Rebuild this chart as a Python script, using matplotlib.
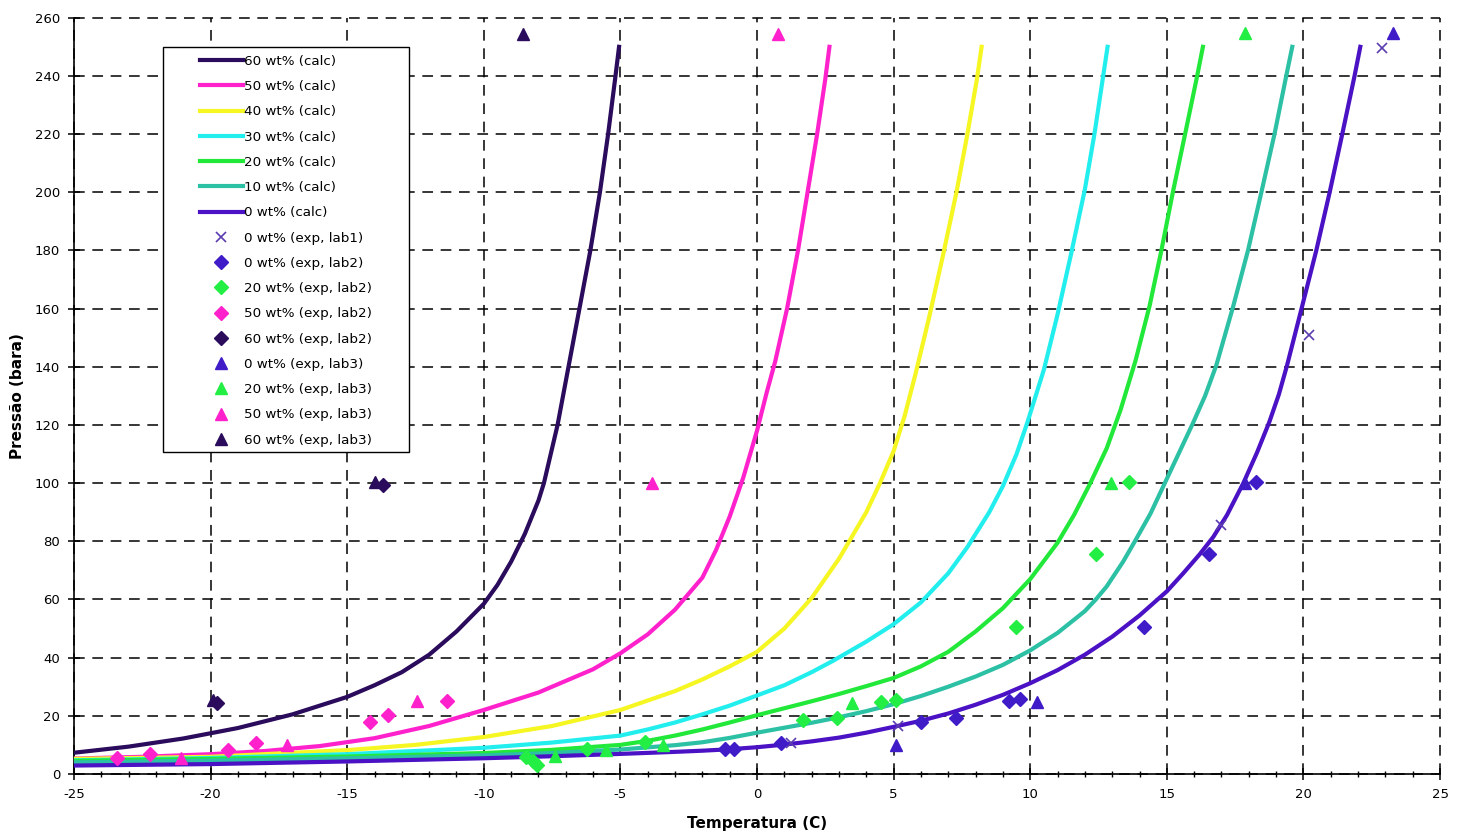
import numpy as np
import matplotlib
matplotlib.use("Agg")
import matplotlib.pyplot as plt
from matplotlib.ticker import MultipleLocator
from matplotlib.patches import Rectangle

plt.rcParams['font.family'] = ['DejaVu Sans']
plt.rcParams['axes.unicode_minus'] = False

# ── calculated curves (T in C, P in bara) ───────────────────────────────────

t_60 = [-25, -23, -21, -19, -17, -15, -14, -13, -12, -11, -10, -9.5, -9, -8.5, -8, -7.8, -7.55, -7.3, -7.1, -6.9, -6.5, -6.1, -5.75, -5.45, -5.18, -5.05]
p_60 = [7.3, 9.4, 12.2, 15.8, 20.5, 26.5, 30.5, 35, 41, 49, 58.5, 65, 73, 82.5, 94, 100, 110, 120, 130, 140, 160, 180, 200, 220, 240, 250]

t_50 = [-25, -22.5, -20, -18, -16, -14, -12, -10, -8, -6, -5, -4, -3, -2, -1.5, -1, -0.5, 0, 0.35, 0.67, 1.1, 1.5, 1.85, 2.2, 2.5, 2.65]
p_50 = [5.3, 5.9, 6.8, 7.9, 9.6, 12.3, 16.5, 22, 28, 36, 41.5, 48, 56.5, 67.5, 77, 88.5, 102, 118, 131, 142, 160, 180, 200, 220, 239, 250]

t_40 = [-25, -20, -15, -12.5, -10, -7.5, -5, -3, -2, -1, 0, 1, 2, 3, 4, 4.5, 5, 5.4, 5.8, 6.3, 6.8, 7.3, 7.7, 8.05, 8.22]
p_40 = [5.2, 5.9, 8.2, 10.0, 12.7, 16.5, 22, 28.5, 32.5, 37, 42, 50, 60.5, 74, 90, 100, 111, 123, 137.5, 157, 178, 200, 220, 239, 250]

t_30 = [-25, -20, -15, -10, -7.5, -5, -4, -3, -2, -1, 0, 1, 2, 2.8, 4, 5, 6, 7, 7.7, 8.5, 9, 9.5, 9.9, 10.5, 11, 11.5, 12, 12.35, 12.67, 12.83]
p_30 = [4.7, 5.5, 6.8, 9.0, 10.8, 13.2, 15.3, 17.7, 20.5, 23.5, 27, 30.5, 35, 39, 45.5, 51.5, 59, 69, 78, 90, 99, 110, 121, 139, 158, 179, 201, 220, 240, 250]

t_20 = [-25, -20, -15, -10, -7.5, -5, -4, -3, -2, -1, 0, 1, 2, 3, 4, 5, 6, 7, 8, 9, 10, 11, 11.6, 12.2, 12.8, 13.3, 13.85, 14.37, 14.8, 15.22, 15.69, 16.11, 16.32]
p_20 = [4.5, 5.2, 6.0, 7.2, 8.3, 10.0, 11.4, 13.2, 15.3, 17.7, 20.2, 22.6, 25, 27.5, 30.2, 33, 37, 42, 49, 57, 67, 79.5, 89, 100, 112, 125, 142, 161, 180, 200, 221, 240, 250]

t_10 = [-25, -20, -15, -10, -7.5, -5, -3, -2, -1, 0, 1, 2, 3, 4, 5, 6, 7, 8, 9, 10, 11, 12, 12.4, 12.8, 13.4, 13.8, 14.4, 14.9, 15.4, 15.95, 16.4, 16.81, 17.1, 17.42, 17.97, 18.46, 18.94, 19.37, 19.59]
p_10 = [4.0, 4.6, 5.4, 6.4, 7.2, 8.4, 9.9, 10.9, 12.4, 14.2, 15.9, 17.6, 19.5, 21.6, 24, 26.8, 30, 33.5, 37.5, 42.5, 48.5, 56, 60, 64.5, 73, 79.5, 89.5, 99.5, 109.5, 120.5, 130, 140.5, 150, 160.5, 180, 200, 220, 240, 250]

t_0 = [-25, -20, -15, -10, -7.5, -5, -3, -2, -1, 0, 1, 2, 3, 4, 5, 6, 7, 8, 9, 10, 11, 12, 13, 14, 15, 15.6, 16.2, 16.7, 17.2, 17.8, 18.3, 18.75, 19.1, 19.4, 19.93, 20.47, 20.96, 21.42, 21.87, 22.08]
p_0 = [2.9, 3.4, 4.3, 5.4, 6.1, 6.9, 7.6, 8.0, 8.5, 9.2, 10.1, 11.2, 12.5, 14.2, 16.2, 18.3, 20.8, 23.8, 27.2, 31.2, 35.7, 41, 47.2, 54.5, 62.8, 69, 75.5, 81.5, 89, 100, 110.5, 121, 130.5, 140.5, 160, 180, 200, 220, 240, 250]

# ── experimental points ─────────────────────────────────────────────────────

t_0_lab1 = [1.26, 5.16, 16.99, 20.2, 22.88]
p_0_lab1 = [10.7, 16.4, 85.6, 150.8, 249.7]

t_0_lab2 = [-1.17, -0.85, 0.89, 6.0, 7.3, 9.22, 9.61, 14.16, 16.54, 18.25]
p_0_lab2 = [8.6, 8.6, 10.5, 18.0, 19.4, 25.0, 25.8, 50.5, 75.6, 100.5]

t_20_lab2 = [-8.45, -8.2, -8.05, -6.24, -4.1, 1.67, 2.92, 4.53, 5.1, 9.49, 12.4, 13.6]
p_20_lab2 = [6.0, 4.5, 3.0, 8.6, 10.9, 18.7, 19.4, 24.7, 25.3, 50.5, 75.6, 100.5]

t_50_lab2 = [-23.44, -22.22, -19.36, -18.32, -14.15, -13.5, -11.34]
p_50_lab2 = [5.6, 6.7, 8.4, 10.7, 17.9, 20.4, 25.0]

t_60_lab2 = [-19.75, -13.7]
p_60_lab2 = [24.5, 99.5]

t_0_lab3 = [5.08, 10.26, 17.85, 23.27]
p_0_lab3 = [9.8, 24.8, 99.9, 254.8]

t_20_lab3 = [-7.4, -5.51, -3.44, 3.47, 12.97, 17.85]
p_20_lab3 = [6.1, 8.2, 9.8, 24.5, 99.9, 254.8]

t_50_lab3 = [-21.1, -17.2, -12.43, -3.86, 0.77]
p_50_lab3 = [5.6, 10.1, 25.0, 99.9, 254.5]

t_60_lab3 = [-19.9, -14.0, -8.58]
p_60_lab3 = [25.5, 100.5, 254.5]

# ── colours ─────────────────────────────────────────────────────────────────

c60 = "#2a0b5c"
c50 = "#ff22cc"
c40 = "#f6f622"
c30 = "#22eeee"
c20 = "#22e83a"
c10 = "#2cc0a4"
c0 = "#4a12c4"

# ── plot ────────────────────────────────────────────────────────────────────

fig = plt.figure(figsize=(14.62, 8.36), dpi=100)
ax = fig.add_axes([0.0506, 0.0742, 0.9344, 0.9046])

lw = 3.0
ax.plot(t_60, p_60, color=c60, lw=lw, label="60 wt% (calc)", zorder=3, solid_joinstyle="round")
ax.plot(t_50, p_50, color=c50, lw=lw, label="50 wt% (calc)", zorder=3, solid_joinstyle="round")
ax.plot(t_40, p_40, color=c40, lw=lw, label="40 wt% (calc)", zorder=3, solid_joinstyle="round")
ax.plot(t_30, p_30, color=c30, lw=lw, label="30 wt% (calc)", zorder=3, solid_joinstyle="round")
ax.plot(t_20, p_20, color=c20, lw=lw, label="20 wt% (calc)", zorder=3, solid_joinstyle="round")
ax.plot(t_10, p_10, color=c10, lw=lw, label="10 wt% (calc)", zorder=3, solid_joinstyle="round")
ax.plot(t_0, p_0, color=c0, lw=lw, label="0 wt% (calc)", zorder=3, solid_joinstyle="round")

ax.plot(t_0_lab1, p_0_lab1, ls="none", marker="x", ms=7, mew=1.2, color="#5a3cb0", label="0 wt% (exp, lab1)", zorder=4)
ax.plot(t_0_lab2, p_0_lab2, ls="none", marker="D", ms=7, color="#3f1cc8", label="0 wt% (exp, lab2)", zorder=4)
ax.plot(t_20_lab2, p_20_lab2, ls="none", marker="D", ms=7, color="#22ee44", label="20 wt% (exp, lab2)", zorder=4)
ax.plot(t_50_lab2, p_50_lab2, ls="none", marker="D", ms=7, color="#ff22cc", label="50 wt% (exp, lab2)", zorder=4)
ax.plot(t_60_lab2, p_60_lab2, ls="none", marker="D", ms=7, color="#2a0b5c", label="60 wt% (exp, lab2)", zorder=4)
ax.plot(t_0_lab3, p_0_lab3, ls="none", marker="^", ms=8, color="#3f1cc8", label="0 wt% (exp, lab3)", zorder=4)
ax.plot(t_20_lab3, p_20_lab3, ls="none", marker="^", ms=8, color="#22ee44", label="20 wt% (exp, lab3)", zorder=4)
ax.plot(t_50_lab3, p_50_lab3, ls="none", marker="^", ms=8, color="#ff22cc", label="50 wt% (exp, lab3)", zorder=4)
ax.plot(t_60_lab3, p_60_lab3, ls="none", marker="^", ms=8, color="#2a0b5c", label="60 wt% (exp, lab3)", zorder=4)

ax.set_xlim(-25, 25)
ax.set_ylim(0, 260)
ax.xaxis.set_major_locator(MultipleLocator(5))
ax.xaxis.set_minor_locator(MultipleLocator(1))
ax.yaxis.set_major_locator(MultipleLocator(20))

ax.grid(True, which="major", color="black", ls=(0, (7, 5)), lw=1.1)
for gl in ax.get_xgridlines() + ax.get_ygridlines():
    gl.set_clip_on(False)

ax.spines["top"].set_visible(False)
ax.spines["right"].set_visible(False)
ax.spines["left"].set_linewidth(1.2)
ax.spines["bottom"].set_linewidth(1.2)

ax.tick_params(which="major", direction="inout", length=8, width=1.1, labelsize=9.5, colors="black", pad=6)
ax.tick_params(which="minor", direction="inout", length=5, width=1.0)

ax.set_xlabel("Temperatura (C)", fontsize=11, fontweight="bold", labelpad=11)
ax.set_ylabel("Pressão (bara)", fontsize=11, fontweight="bold", labelpad=7)

# legend: white box drawn separately so it can be wider than the entries
ax.add_patch(Rectangle((0.0652, 0.4258), 0.18, 0.5355, transform=ax.transAxes,
                       facecolor="white", edgecolor="black", lw=1.0, zorder=5))
leg = ax.legend(loc="upper left", bbox_to_anchor=(0.0922, 0.951), borderaxespad=0,
                fontsize=9.7, frameon=False, handlelength=3.2, handletextpad=0.1,
                labelspacing=0.91, borderpad=0)
leg.set_zorder(6)

fig.savefig("out.png", dpi=100)
